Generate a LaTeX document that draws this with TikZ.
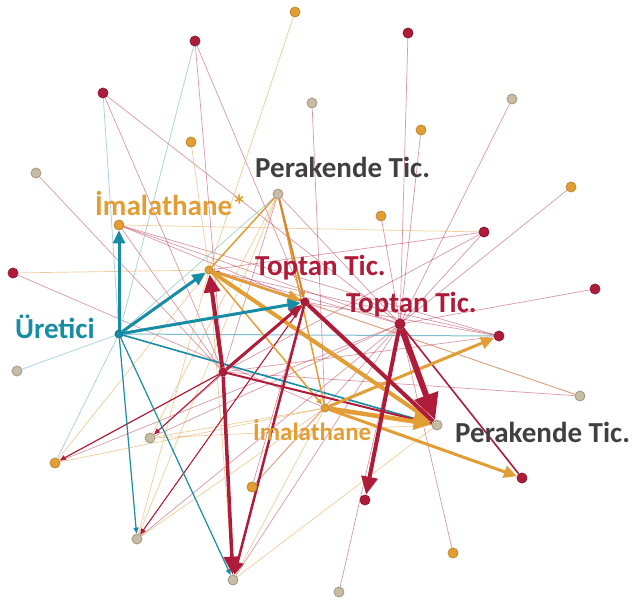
\documentclass[tikz,border=0pt]{standalone}
\usepackage{fontspec}
\setmainfont{Carlito}
\usetikzlibrary{arrows.meta}
\pgfdeclarelayer{bg}
\pgfsetlayers{bg,main}
\definecolor{crim}{RGB}{175,28,58}
\definecolor{ora}{RGB}{226,158,52}
\definecolor{bei}{RGB}{200,188,165}
\definecolor{tea}{RGB}{22,140,165}
\definecolor{lab}{RGB}{64,64,64}
\begin{document}
\begin{tikzpicture}[x=1pt,y=-1pt,
 nd/.style={circle,inner sep=0pt,minimum size=10pt,line width=0.8pt},
 rn/.style={nd,fill=crim,draw=crim!80!black},
 on/.style={nd,fill=ora,draw=ora!85!black},
 bn/.style={nd,fill=bei,draw=bei!80!black},
 tn/.style={nd,fill=tea,draw=tea!80!black},
 pk/.style={draw=crim,opacity=0.45,line width=0.7pt},
 lo/.style={draw=ora,opacity=0.5,line width=0.7pt},
 lt/.style={draw=tea!60!white,opacity=0.6,line width=0.8pt},
 lbl/.style={inner sep=0pt,anchor=base west,font=\fontsize{29}{29}\selectfont\bfseries},
 tipS/.style={-{Triangle[length=6pt,width=5pt]}},
 tipM/.style={-{Triangle[length=13pt,width=12pt]}},
 tipL/.style={-{Triangle[length=18pt,width=16pt]}},
 tipXL/.style={-{Triangle[length=26pt,width=24pt]}},
]
\useasboundingbox (0,0) rectangle (633,603);
% nodes
\node[on] (n1) at (295,12) {};
\node[rn] (n2) at (195,41) {};
\node[rn] (n3) at (103,93) {};
\node[on] (n4) at (191,142) {};
\node[bn] (n5) at (36,173) {};
\node[bn] (n6) at (278,194) {};
\node[rn] (n7) at (408,33) {};
\node[bn] (n8) at (312,103) {};
\node[on] (n9) at (421,130) {};
\node[bn] (n10) at (512,99) {};
\node[on] (n11) at (571,187) {};
\node[on] (n12) at (381,216) {};
\node[rn] (n13) at (484,232) {};
\node[rn] (n14) at (595,289) {};
\node[rn] (n15) at (400,324) {};
\node[rn] (n16) at (499,336) {};
\node[bn] (n17) at (580,396) {};
\node[on] (n18) at (119,225) {};
\node[rn] (n19) at (13,273) {};
\node[tn,minimum size=8pt] (n20) at (119,334) {};
\node[bn] (n21) at (17,371) {};
\node[on,minimum size=8pt] (n22) at (209,270) {};
\node[rn,minimum size=8pt] (n23) at (305,302) {};
\node[rn,minimum size=8pt] (n24) at (223,372) {};
\node[on,minimum size=8pt] (n25) at (325,408) {};
\node[bn] (n26) at (437,425) {};
\node[rn] (n27) at (522,478) {};
\node[rn] (n28) at (365,500) {};
\node[on] (n29) at (453,553) {};
\node[bn] (n30) at (339,592) {};
\node[on] (n31) at (55,463) {};
\node[bn] (n32) at (150,438) {};
\node[bn] (n33) at (137,539) {};
\node[bn] (n34) at (233,580) {};
\node[on] (n35) at (252,487) {};
\begin{pgfonlayer}{bg}
\fill[white] (0,0) rectangle (633,603);
% thin pink
\foreach \a/\b in {n2/n24,n2/n23,n3/n24,n3/n15,n5/n24,n7/n15,n8/n25,n9/n15,n10/n15,n11/n15,n12/n15,n13/n15,n13/n22,n13/n24,n14/n15,n17/n23,n18/n24,n18/n15,n18/n16,n18/n23,n19/n25,n29/n15,n30/n15,n32/n15,n33/n15,n34/n15,n35/n15,n6/n24,n6/n15,n24/n16,n22/n16,n22/n15,n23/n16,n24/n17,n22/n26,n31/n15,n32/n23,n33/n23,n35/n23}
  \draw[pk] (\a) -- (\b);
% thin orange
\foreach \a/\b in {n1/n22,n4/n22,n19/n22,n31/n25,n32/n26,n6/n32,n33/n22,n33/n25,n34/n25,n22/n34,n18/n13,n32/n25,n31/n22,n6/n33,n22/n17,n25/n35,n34/n26}
  \draw[lo] (\a) -- (\b);
% thin teal
\foreach \a/\b in {n20/n2,n20/n3,n20/n31,n20/n21,n20/n6}
  \draw[lt] (\a) -- (\b);
\draw[tea!70!white,line width=1pt,opacity=0.8] (n20) -- (n16);
% medium lines
\draw[crim,line width=1.2pt,tipS] (n24) -- (n31);
\draw[crim,line width=1pt,tipS] (n23) -- (n33);
\draw[crim,line width=1pt,tipS] (n24) -- (n32);
\draw[tea,line width=1.2pt,tipS] (n20) -- (n33);
\draw[tea,line width=1.2pt,tipS] (n20) -- (n34);
\draw[tea,line width=1.6pt] (n20) -- (n26);
\draw[ora,line width=1.5pt] (n6) -- (n22);
\draw[ora,line width=1.5pt] (n6) -- (n25);
\draw[ora!80!crim,line width=2pt,tipS] (n6) -- (n23);
\draw[ora,line width=1.5pt,tipS] (n22) -- (n25);
\draw[crim,line width=1.6pt] (n15) -- (n27);
\draw[crim,line width=2pt] (n24) -- (n26);
\draw[crim,line width=2pt,tipS] (n23) -- (n22);
% thick arrows
\draw[ora,line width=3pt,tipM] (n25) -- (n27);
\draw[ora,line width=3pt,tipM] (n25) -- (n16);
\draw[ora,line width=4pt,tipL] (n22) -- (n26);
\draw[ora,line width=4.5pt,tipL] (n25) -- (n26);
\draw[ora,line width=2.5pt,tipM] (n22) -- (n23);
\draw[crim,line width=3pt,tipM] (n24) -- (n23);
\draw[crim,line width=4pt,tipL] (n24) -- (n22);
\draw[crim,line width=3.5pt,tipL] (n24) -- (n34);
\draw[crim,line width=2.5pt,tipM] (n23) -- (n34);
\draw[crim,line width=4pt] (n23) -- (n26);
\draw[crim,line width=4pt,tipL] (n15) -- (n28);
\draw[crim,line width=6pt,tipXL] (n15) -- (n26);
\draw[tea,line width=3pt,tipM] (n20) -- (n18);
\draw[tea,line width=3pt,tipM] (n20) -- (n22);
\draw[tea,line width=3pt,tipM] (n20) -- (n23);
\end{pgfonlayer}
% labels
\node[lbl,text=lab] (l1) at (255,177) {Perakende Tic.};
\node[lbl,text=ora] (l2) at (95,215) {İmalathane*};
\node[lbl,text=crim] (l3) at (255,275) {Toptan Tic.};
\node[lbl,text=crim] (l4) at (346,312) {Toptan Tic.};
\node[lbl,text=tea] (l5) at (15,338) {Üretici};
\node[lbl,text=ora,font=\fontsize{25}{25}\selectfont\bfseries] (l6) at (253,440) {İmalathane};
\node[lbl,text=lab] (l7) at (455,442) {Perakende Tic.};
\end{tikzpicture}
\end{document}
